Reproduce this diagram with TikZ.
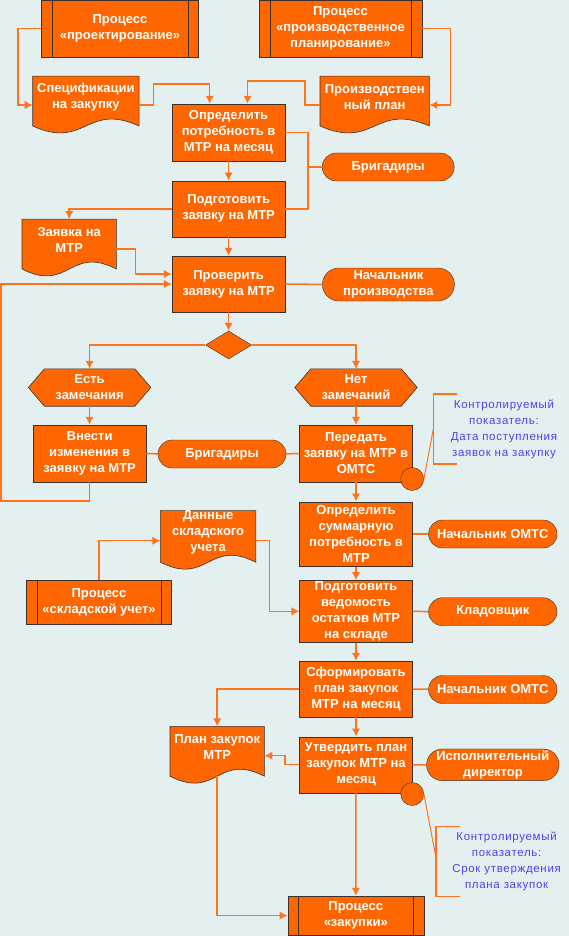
\documentclass[tikz,border=0pt]{standalone}
\usepackage{fontspec}
\setmainfont{Liberation Sans}
\newfontfamily\notefont[LetterSpace=6]{Liberation Sans}
\usepackage{tikz}
\usetikzlibrary{shapes}
\usetikzlibrary{shapes.misc}
\usetikzlibrary{arrows.meta}
\usetikzlibrary{backgrounds}
\definecolor{orng}{RGB}{255,102,0}
\definecolor{wire}{RGB}{255,115,30}
\definecolor{edge}{RGB}{60,50,45}
\definecolor{paper}{RGB}{228,240,240}
\definecolor{noteblue}{RGB}{70,70,240}
\newcommand{\boxfont}{\bfseries\fontsize{13}{16}\selectfont}
\newcommand{\docshape}[1]{\filldraw[fill=orng, draw=edge, line width=.6pt] (#1.north west) -- (#1.north east) -- ([yshift=-7.5pt]#1.south east) .. controls ([yshift=16.5pt]#1.south) and ([yshift=-31.5pt]#1.south) .. ([yshift=-7.5pt]#1.south west) -- cycle;}
\newcommand{\hexshape}[1]{\filldraw[fill=orng, draw=edge, line width=.6pt] (#1.west) -- ([xshift=16pt]#1.north west) -- ([xshift=-16pt]#1.north east) -- (#1.east) -- ([xshift=-16pt]#1.south east) -- ([xshift=16pt]#1.south west) -- cycle;}
\tikzset{
  task/.style={rectangle, draw=edge, fill=orng, text=white, align=center, font=\boxfont, inner sep=1pt, minimum width=113pt},
  proc/.style={task},
  role/.style={rounded rectangle, draw=edge, fill=orng, text=white, align=center, font=\boxfont, inner sep=1pt, minimum width=130pt, minimum height=28pt},
  docu/.style={rectangle, text=white, align=center, font=\boxfont, inner sep=0pt, minimum height=42pt},
  hexa/.style={rectangle, text=white, align=center, font=\boxfont, inner sep=0pt, minimum height=37pt, minimum width=122pt},
  ctrl/.style={circle, draw=edge, fill=orng, inner sep=0pt, minimum size=23pt},
  note/.style={rectangle, text=noteblue, align=center, font=\notefont\fontsize{11.5}{16}\selectfont, inner sep=0pt, minimum width=141pt, minimum height=70pt},
  conn/.style={draw=wire, line width=1.5pt, -{Latex[length=8pt,width=8.5pt]}},
  tie/.style={draw=wire, line width=1.5pt}
}

\begin{document}
\begin{tikzpicture}[x=1pt, y=-1pt]
\useasboundingbox (0,0) rectangle (569,936);
% upper part
\node[proc, minimum width=157pt, minimum height=57pt] (procDesign) at (120,28.5) {Процесс\\«проектирование»};
\node[proc, minimum width=163pt, minimum height=57pt] (procPlan) at (340.4,28.5) {Процесс\\«производственное\\планирование»};
\node[docu, minimum width=106pt] (docSpec) at (85.9,97.3) {Спецификации\\на закупку};
\node[docu, minimum width=109pt] (docPlan) at (374.7,97.3) {Производствен\\ный план};
\node[task, minimum height=57pt] (taskNeed) at (228.6,132.5) {Определить\\потребность в\\МТР на месяц};
\node[role, minimum width=134pt] (brigA) at (388.2,167) {Бригадиры};
\node[task, minimum height=56pt] (taskReq) at (228.6,208.8) {Подготовить\\заявку на МТР};
\node[docu, minimum width=94pt] (docReq) at (69.2,240.3) {Заявка на\\МТР};
\node[task, minimum height=56pt] (taskCheck) at (228.6,284) {Проверить\\заявку на МТР};
\node[role, minimum width=134pt, minimum height=33pt] (chiefProd) at (388.4,284.5) {Начальник\\производства};
\node[diamond, draw=edge, fill=orng, inner sep=0pt, minimum width=46pt, minimum height=28pt] (decide) at (228.6,345) {};
% branches
\node[hexa] (yesRem) at (89.6,387.5) {Есть\\замечания};
\node[hexa] (noRem) at (356,387.5) {Нет\\замечаний};
\node[task, minimum width=112.5pt, minimum height=57pt] (taskFix) at (89.6,453.5) {Внести\\изменения в\\заявку на МТР};
\node[role] (brigB) at (222,454) {Бригадиры};
\node[task, minimum height=57pt] (taskSend) at (356,453.5) {Передать\\заявку на МТР в\\ОМТС};
\node[ctrl] (ctlA) at (412.2,479) {};
\node[note] (noteA) at (504,429) {Контролируемый\\показатель:\\Дата поступления\\заявок на закупку};
% lower part
\node[task, minimum height=64.6pt] (taskTotal) at (356,534) {Определить\\суммарную\\потребность в\\МТР};
\node[role, minimum width=130.5pt] (chiefSupA) at (492.8,534) {Начальник ОМТС};
\node[docu, minimum width=95pt] (docStock) at (208.1,532.7) {Данные\\складского\\учета};
\node[proc, minimum width=145pt, minimum height=44pt] (procStore) at (99,602) {Процесс\\«складской учет»};
\node[task, minimum height=62pt] (taskRest) at (356,611.3) {Подготовить\\ведомость\\остатков МТР\\на складе};
\node[role, minimum width=130.5pt] (keeper) at (492.8,611.7) {Кладовщик};
\node[task, minimum height=55.7pt] (taskPlan) at (356,688.9) {Сформировать\\план закупок\\МТР на месяц};
\node[role, minimum width=130.5pt] (chiefSupB) at (492.8,689.5) {Начальник ОМТС};
\node[docu, minimum width=94pt] (docBuy) at (217.2,747.5) {План закупок\\МТР};
\node[task, minimum height=56pt] (taskApprove) at (356,764.7) {Утвердить план\\закупок МТР на\\месяц};
\node[role, minimum width=130.5pt, minimum height=31.7pt] (director) at (492.8,764.8) {Исполнительный\\директор};
\node[ctrl] (ctlB) at (412.2,794) {};
\node[note, minimum height=69.3pt] (noteB) at (506.6,861.4) {Контролируемый\\показатель:\\Срок утверждения\\плана закупок};
\node[proc, minimum width=136pt, minimum height=39.3pt] (procBuy) at (355.8,915.6) {Процесс\\«закупки»};

\foreach \p in {procDesign,procPlan,procStore,procBuy}
  \draw[edge] ([xshift=11pt]\p.north west) -- ([xshift=11pt]\p.south west)
              ([xshift=-11pt]\p.north east) -- ([xshift=-11pt]\p.south east);

% connectors
\draw[conn] (procDesign.west) -| (18,105) -- (docSpec.west |- 0,105);
\draw[conn] (docSpec.east |- 0,105) -| (153.5,84) -| (209.7,0 |- taskNeed.north);
\draw[conn] (procPlan.east) -| (450.7,105) -- (docPlan.east |- 0,105);
\draw[conn] (docPlan.west |- 0,105) -| (304.8,81) -| (247.5,0 |- taskNeed.north);
\draw[conn] (taskNeed) -- (taskReq);
\draw[tie] (taskNeed.east) -- ++(22.7,0) |- (taskReq.east);
\draw[tie] (brigA.west) -- (brigA.west -| 307.7,0);
\draw[conn] (taskReq.west) -| (docReq.north);
\draw[conn] (docReq.east |- 0,249) -| (135.4,274) -- (taskCheck.west |- 0,274);
\draw[conn] (taskFix.south) -- ++(0,19) -| (1,284) -- (taskCheck.west);
\draw[conn] (taskReq) -- (taskCheck);
\draw[tie] (taskCheck) -- (chiefProd);
\draw[conn] (taskCheck) -- (decide);
\draw[conn] (decide.west) -| (yesRem.north);
\draw[conn] (decide.east) -| (noRem.north);
\draw[conn] (yesRem) -- (taskFix);
\draw[conn] (noRem) -- (taskSend);
\draw[tie] (taskFix) -- (brigB) -- (taskSend);
\draw[conn] (taskSend) -- (taskTotal);
\draw[tie] (taskTotal) -- (chiefSupA);
\draw[conn] (procStore.north) |- (docStock.west |- 0,540.7);
\draw[conn] (docStock.east |- 0,540.7) -| (269.3,611.3) -- (taskRest.west);
\draw[conn] (taskTotal) -- (taskRest);
\draw[tie] (taskRest) -- (keeper);
\draw[conn] (taskRest) -- (taskPlan);
\draw[tie] (taskPlan) -- (chiefSupB);
\draw[conn] (taskPlan.west) -| (docBuy.north);
\draw[conn] (taskPlan) -- (taskApprove);
\draw[conn] (taskApprove.west) -- ++(-14.2,0) |- (docBuy.east |- 0,755.7);
\draw[tie] (taskApprove) -- (director);
\draw[conn] (taskApprove) -- (procBuy);
\draw[conn] ([yshift=-7.5pt]docBuy.south) |- (procBuy.west);
% control points
\draw[tie, line width=1pt] (ctlA.east) -- (noteA.west);
\draw[tie] ([xshift=24pt]noteA.north west) -- (noteA.north west) -- (noteA.south west) -- ++(24,0);
\draw[tie, line width=1pt] (ctlB.east) -- ([yshift=4pt]noteB.west);
\draw[tie] ([xshift=24pt]noteB.north west) -- (noteB.north west) -- (noteB.south west) -- ++(24,0);

\begin{scope}[on background layer]
  \fill[paper] (0,0) rectangle (569,936);
  \foreach \d in {docSpec,docPlan,docReq,docStock,docBuy} {\docshape{\d}}
  \hexshape{yesRem}
  \hexshape{noRem}
\end{scope}
\end{tikzpicture}
\end{document}
